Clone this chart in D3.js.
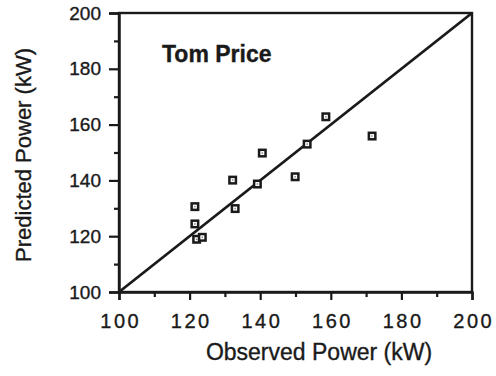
<!DOCTYPE html>
<html><head><meta charset="utf-8">
<script src="https://cdn.jsdelivr.net/npm/d3@7"></script>
<style>
html,body{margin:0;padding:0;background:#fff;}
svg{display:block;}
text{font-family:"Liberation Sans",Arial,Helvetica,sans-serif;fill:#1a1a1a;stroke:#1a1a1a;stroke-width:0.35px;}
</style></head>
<body>
<svg id="c" width="496" height="376"></svg>
<script>
const observed  = [121.5, 121.5, 122.0, 123.6, 132.2, 132.9, 139.2, 140.6, 149.9, 153.3, 158.6, 171.7];
const predicted = [130.6, 124.4, 118.9, 119.6, 140.1, 129.9, 138.7, 149.8, 141.3, 153.0, 162.8, 155.9];
const xTicks = [100, 120, 140, 160, 180, 200];
const yTicks = [100, 120, 140, 160, 180, 200];
const minorTicks = [110, 130, 150, 170, 190];
const title = "Tom Price";
const xTitle = "Observed Power (kW)";
const yTitle = "Predicted Power (kW)";

const svg = d3.select("#c");
const x = d3.scaleLinear().domain([100, 200]).range([119, 472]);
const y = d3.scaleLinear().domain([100, 200]).range([292, 13]);
const ink = "#1a1a1a";

// frame
svg.append("rect").attr("x", x(100)).attr("y", y(200))
  .attr("width", x(200) - x(100)).attr("height", y(100) - y(200))
  .attr("fill", "none").attr("stroke", ink).attr("stroke-width", 2.4);

// x axis
const xAxis = svg.append("g").attr("transform", `translate(0,${y(100)})`)
  .call(d3.axisBottom(x).tickValues(xTicks).tickSize(8).tickPadding(14).tickFormat(d3.format("d")));
xAxis.select(".domain").attr("stroke", ink).attr("stroke-width", 2.4);
xAxis.selectAll(".tick line").attr("stroke", ink).attr("stroke-width", 2.2);
xAxis.selectAll(".tick text").attr("font-size", 20).attr("letter-spacing", "2.5px")
  .attr("dx", "1.2px").attr("fill", ink).style("font-family", "Liberation Sans, Arial, sans-serif");
const xMinor = svg.append("g").attr("transform", `translate(0,${y(100)})`)
  .call(d3.axisBottom(x).tickValues(minorTicks).tickSize(5).tickFormat(""));
xMinor.select(".domain").remove();
xMinor.selectAll(".tick line").attr("stroke", ink).attr("stroke-width", 2.2);

// y axis
const yAxis = svg.append("g").attr("transform", `translate(${x(100)},0)`)
  .call(d3.axisLeft(y).tickValues(yTicks).tickSize(10).tickPadding(8).tickFormat(d3.format("d")));
yAxis.select(".domain").attr("stroke", ink).attr("stroke-width", 2.4);
yAxis.selectAll(".tick line").attr("stroke", ink).attr("stroke-width", 2.2);
yAxis.selectAll(".tick text").attr("font-size", 19).attr("fill", ink)
  .style("font-family", "Liberation Sans, Arial, sans-serif");
const yMinor = svg.append("g").attr("transform", `translate(${x(100)},0)`)
  .call(d3.axisLeft(y).tickValues(minorTicks).tickSize(5).tickFormat(""));
yMinor.select(".domain").remove();
yMinor.selectAll(".tick line").attr("stroke", ink).attr("stroke-width", 2.2);

// 1:1 line
svg.append("line").attr("x1", x(100)).attr("y1", y(100)).attr("x2", x(200)).attr("y2", y(200))
  .attr("stroke", ink).attr("stroke-width", 2.8);

// points
const data = observed.map((o, i) => ({o, p: predicted[i]}));
const pts = svg.append("g").selectAll("g").data(data).join("g")
  .attr("transform", d => `translate(${x(d.o)},${y(d.p)})`);
pts.append("rect").attr("x", -4.5).attr("y", -4.5).attr("width", 9).attr("height", 9).attr("fill", ink);
pts.append("rect").attr("x", -2).attr("y", -2).attr("width", 4).attr("height", 4).attr("fill", "#fff");
pts.append("rect").attr("x", -0.75).attr("y", -0.75).attr("width", 1.5).attr("height", 1.5).attr("fill", "#888");

// title
svg.append("text").attr("x", 162).attr("y", 61.5).attr("font-size", 23).attr("font-weight", "bold").text(title);

// axis titles
svg.append("text").attr("x", 319).attr("y", 360).attr("text-anchor", "middle").attr("font-size", 23).text(xTitle);
svg.append("text").attr("transform", "translate(31,155) rotate(-90)").attr("text-anchor", "middle")
  .attr("font-size", 22).text(yTitle);
</script>
</body></html>
